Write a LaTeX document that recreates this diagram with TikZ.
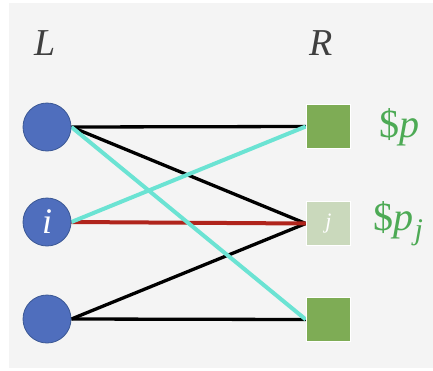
\documentclass[tikz,border=0pt]{standalone}
\usepackage{fontspec}
\setmainfont{Liberation Serif}
\usetikzlibrary{backgrounds}
\definecolor{panel}{HTML}{F4F4F4}
\definecolor{lblue}{HTML}{4F6EBD}
\definecolor{lblueedge}{HTML}{3A5794}
\definecolor{rgreen}{HTML}{7EAC55}
\definecolor{rpale}{HTML}{CAD9BC}
\definecolor{pricegreen}{HTML}{4DAA55}
\definecolor{edgecyan}{HTML}{6BE3D3}
\definecolor{edgered}{HTML}{B0241C}
\definecolor{heading}{HTML}{3F3F3F}
\begin{document}
\begin{tikzpicture}[x=1pt,y=-1pt,
  leftv/.style={circle,fill=lblue,draw=lblueedge,line width=0.8pt,minimum size=48pt,inner sep=0pt,text=white},
  rightv/.style={rectangle,fill=rgreen,draw=white,line width=1.5pt,minimum size=44pt,inner sep=0pt,text=white},
  edge/.style={line width=3.3pt},
  hiedge/.style={line width=4pt},
  heading/.style={text=heading,font=\fontsize{38}{42}\selectfont\itshape},
  price/.style={text=pricegreen,font=\fontsize{40}{44}\selectfont,anchor=west}]
\useasboundingbox (0,0) rectangle (433,370);

% column headings
\node[heading] (hL) at (45,43) {L};
\node[heading] (hR) at (321,43) {R};

% left vertices
\node[leftv] (l1) at (47,127) {};
\node[leftv,font=\fontsize{36}{38}\selectfont\itshape] (l2) at (47,222) {i};
\node[leftv] (l3) at (47,319) {};

% right vertices
\node[rightv] (r1) at (328.5,126.5) {};
\node[rightv,fill=rpale,font=\fontsize{22}{26}\selectfont\itshape] (r2) at (328.5,223.5) {j};
\node[rightv] (r3) at (328.5,319.5) {};

% prices
\node[price] (p1) at (376,127) {\$\textit{p}};
\node[price] (p2) at (370,224) {\$\textit{p}\hspace{1pt}\raisebox{-9pt}{\fontsize{30}{32}\selectfont\textit{j}}};

% panel and edges, behind the vertices
\begin{scope}[on background layer]
\fill[panel] (9,3) rectangle (433,368);
\draw[edge,black] (l1.east) -- (r1.west);
\draw[edge,black] (l1.east) -- (r2.west);
\draw[edge,black] (l3.east) -- (r2.west);
\draw[edge,black] (l3.east) -- (r3.west);
\draw[hiedge,edgered] (l2.east) -- (r2.west);
\draw[hiedge,edgecyan] (l1.east) -- (r3.west);
\draw[hiedge,edgecyan] (l2.east) -- (r1.west);
\end{scope}
\end{tikzpicture}
\end{document}
